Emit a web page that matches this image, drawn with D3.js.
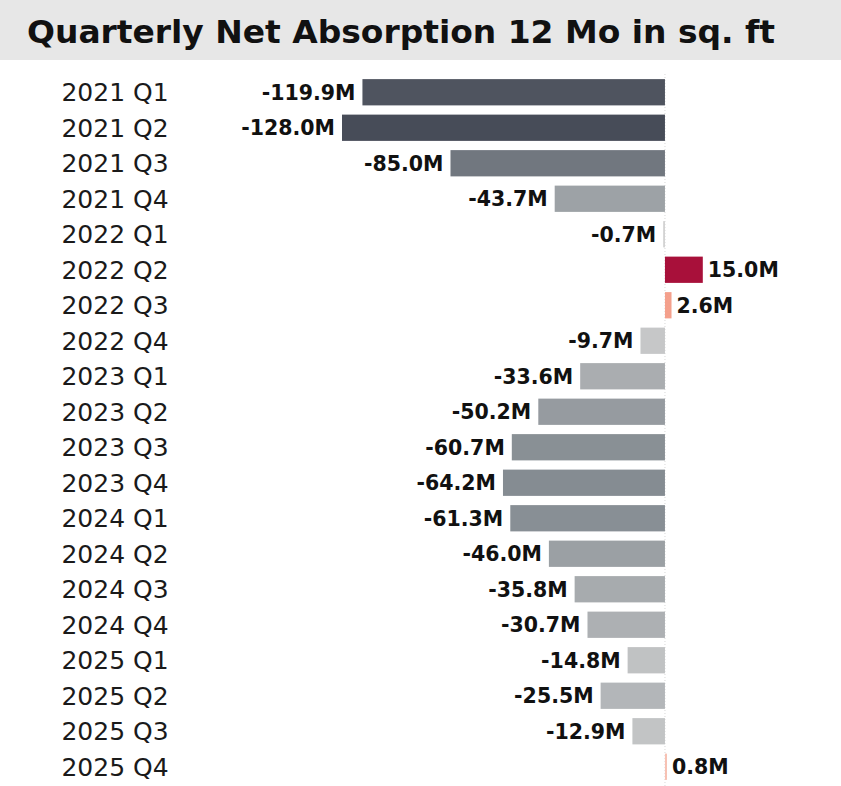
<!DOCTYPE html>
<html>
<head>
<meta charset="utf-8">
<script src="https://cdn.jsdelivr.net/npm/d3@7"></script>
<style>
  body { margin: 0; background: #fff; }
</style>
</head>
<body>
<div id="chart"></div>
<script>
var quarters = ["2021 Q1","2021 Q2","2021 Q3","2021 Q4","2022 Q1","2022 Q2","2022 Q3","2022 Q4",
                "2023 Q1","2023 Q2","2023 Q3","2023 Q4","2024 Q1","2024 Q2","2024 Q3","2024 Q4",
                "2025 Q1","2025 Q2","2025 Q3","2025 Q4"];
var absorption = [-119.9,-128.0,-85.0,-43.7,-0.7,15.0,2.6,-9.7,
                  -33.6,-50.2,-60.7,-64.2,-61.3,-46.0,-35.8,-30.7,
                  -14.8,-25.5,-12.9,0.8];
var title = "Quarterly Net Absorption 12 Mo in sq. ft";

var width = 841, height = 786;
var data = quarters.map(function(q, i) { return {q: q, v: absorption[i]}; });

var svg = d3.select("#chart").append("svg")
    .attr("width", width)
    .attr("height", height);

// title band
svg.append("rect")
    .attr("x", 0).attr("y", 0)
    .attr("width", width).attr("height", 60)
    .attr("fill", "#e7e7e7");
svg.append("text")
    .attr("x", 27).attr("y", 43)
    .attr("font-family", "DejaVu Sans")
    .attr("font-weight", "bold")
    .attr("font-size", 32)
    .attr("textLength", 748)
    .attr("lengthAdjust", "spacingAndGlyphs")
    .attr("fill", "#111")
    .text(title);

var x = d3.scaleLinear()
    .domain([-128, 15])
    .range([342, 702.8]);

var y = d3.scaleBand()
    .domain(quarters)
    .range([74.5, 784.5])
    .paddingInner(0.26)
    .paddingOuter(0.13);

var negColor = d3.scaleLinear()
    .domain([-128, -64, 0])
    .range(["#474c58", "#858c92", "#d2d2d2"]);
var posColor = d3.scaleLinear()
    .domain([0, 2.6, 15])
    .range(["#f9cfc4", "#f4a08c", "#a8103a"]);

// zero line
svg.append("line")
    .attr("x1", x(0)).attr("x2", x(0))
    .attr("y1", 74).attr("y2", 786)
    .attr("stroke", "#d8d8d8")
    .attr("stroke-width", 1)
    .attr("stroke-dasharray", "1,2");

var rows = svg.selectAll("g.row")
    .data(data)
    .enter().append("g")
    .attr("class", "row");

rows.append("rect")
    .attr("x", function(d) { return Math.min(x(d.v), x(0)); })
    .attr("y", function(d) { return y(d.q); })
    .attr("width", function(d) { return Math.abs(x(d.v) - x(0)); })
    .attr("height", y.bandwidth())
    .attr("fill", function(d) { return d.v < 0 ? negColor(d.v) : posColor(d.v); });

rows.append("text")
    .attr("x", 115)
    .attr("y", function(d) { return y(d.q) + y.bandwidth() / 2; })
    .attr("dy", "0.36em")
    .attr("text-anchor", "middle")
    .attr("font-family", "DejaVu Sans")
    .attr("font-size", 25)
    .attr("fill", "#1a1a1a")
    .text(function(d) { return d.q; });

rows.append("text")
    .attr("x", function(d) { return d.v < 0 ? x(d.v) - 7 : x(d.v) + 5; })
    .attr("y", function(d) { return y(d.q) + y.bandwidth() / 2; })
    .attr("dy", "0.36em")
    .attr("text-anchor", function(d) { return d.v < 0 ? "end" : "start"; })
    .attr("font-family", "DejaVu Sans")
    .attr("font-weight", "bold")
    .attr("font-size", 20.5)
    .attr("fill", "#111")
    .text(function(d) { return d.v.toFixed(1) + "M"; });
</script>
</body>
</html>
